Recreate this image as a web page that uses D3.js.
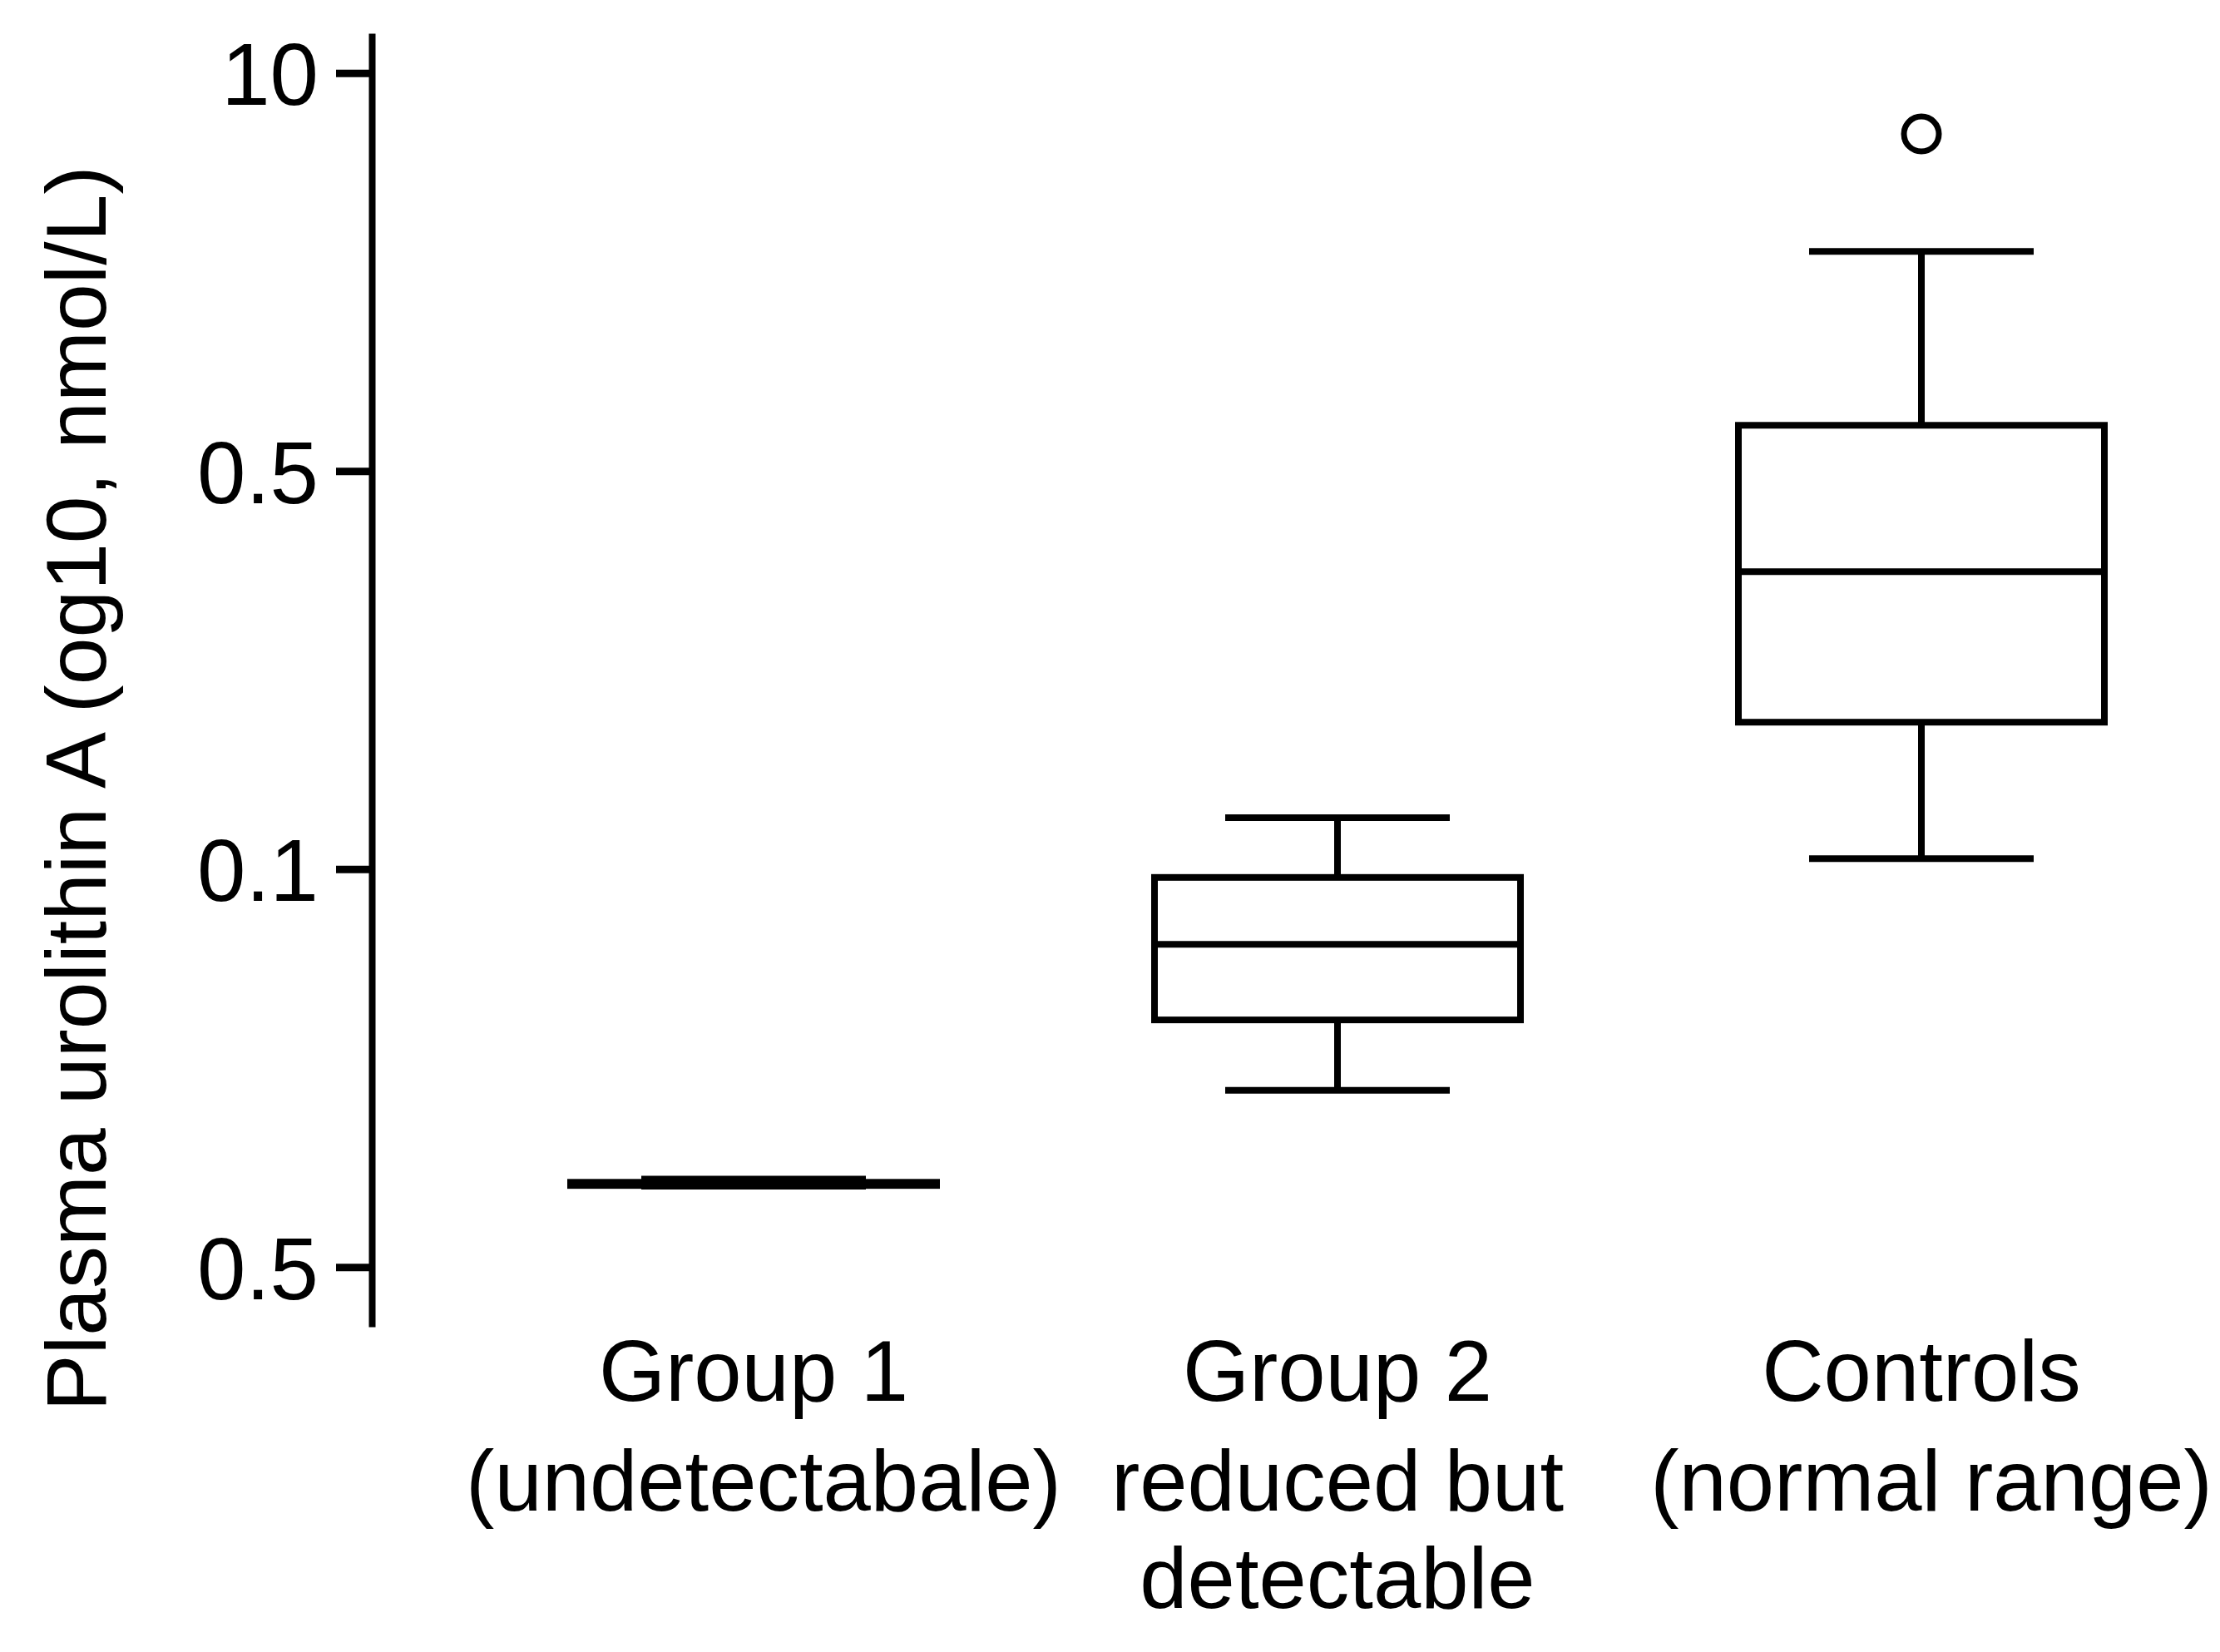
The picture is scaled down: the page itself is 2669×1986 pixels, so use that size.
<!DOCTYPE html>
<html>
<head>
<meta charset="utf-8">
<script src="https://cdn.jsdelivr.net/npm/d3@7/dist/d3.min.js"></script>
<style>
  html, body { margin: 0; padding: 0; background: #fff; }
  svg { display: block; }
  text { font-family: "Liberation Sans", Arial, Helvetica, sans-serif; fill: #000; }
</style>
</head>
<body>
<svg id="chart" width="2669" height="1986"></svg>
<script>
// ---- data (values in axis-tick units) ----
const groups = ["Group 1", "Group 2", "Controls"];
const groupLabels = [
  ["Group 1", "(undetectabale)"],
  ["Group 2", "reduced but", "detectable"],
  ["Controls", "(normal range)"]
];
const whiskerLow  = [0.203, 0.444, 1.026];
const q1          = [0.205, 0.621, 1.369];
const median      = [0.209, 0.811, 1.747];
const q3          = [0.213, 0.979, 2.115];
const whiskerHigh = [0.221, 1.129, 2.552];
const outliers    = [[], [], [2.847]];
const tickValues  = [0, 1, 2, 3];
const tickLabels  = ["0.5", "0.1", "0.5", "10"];
const yTitle = "Plasma urolithin A (og10, nmol/L)";

// ---- layout ----
const W = 2669, H = 1986;
const axisX = 447;
const boxW = 440, capW = 270;
const lw = 8;

const svg = d3.select("#chart");
svg.append("rect").attr("width", W).attr("height", H).attr("fill", "#fff");

const y = d3.scaleLinear().domain([-0.15, 3.1]).range([1595, 40]);
const x = d3.scalePoint().domain(groups).range([906, 2310]);

// y axis
const yAxis = d3.axisLeft(y)
  .tickValues(tickValues)
  .tickFormat((d, i) => tickLabels[i])
  .tickSize(43)
  .tickSizeOuter(0)
  .tickPadding(21);

const gy = svg.append("g").attr("transform", `translate(${axisX},0)`).call(yAxis);
gy.select(".domain").attr("stroke", "#000").attr("stroke-width", lw);
gy.selectAll(".tick line").attr("stroke", "#000").attr("stroke-width", 9);
gy.selectAll(".tick text")
  .attr("fill", "#000")
  .style("font-size", "105px")
  .attr("dy", "0.36em");
gy.attr("font-family", null).attr("font-size", null);

// y title
svg.append("text")
  .attr("transform", `translate(127,948) rotate(-90)`)
  .attr("text-anchor", "middle")
  .style("font-size", "102px")
  .text(yTitle);

// boxes
const data = groups.map((g, i) => ({
  g, lo: whiskerLow[i], q1: q1[i], med: median[i], q3: q3[i], hi: whiskerHigh[i], out: outliers[i]
}));

const gb = svg.append("g").attr("stroke", "#000").attr("stroke-width", lw).attr("fill", "none");

data.forEach(d => {
  const cx = x(d.g);
  const g = gb.append("g");
  // whiskers
  g.append("line").attr("x1", cx).attr("x2", cx).attr("y1", y(d.hi)).attr("y2", y(d.q3));
  g.append("line").attr("x1", cx).attr("x2", cx).attr("y1", y(d.q1)).attr("y2", y(d.lo));
  g.append("line").attr("x1", cx - capW / 2).attr("x2", cx + capW / 2).attr("y1", y(d.hi)).attr("y2", y(d.hi));
  g.append("line").attr("x1", cx - capW / 2).attr("x2", cx + capW / 2).attr("y1", y(d.lo)).attr("y2", y(d.lo));
  // box
  g.append("rect")
    .attr("x", cx - boxW / 2).attr("width", boxW)
    .attr("y", y(d.q3)).attr("height", y(d.q1) - y(d.q3))
    .attr("fill", "#fff");
  // median
  g.append("line").attr("x1", cx - boxW / 2).attr("x2", cx + boxW / 2).attr("y1", y(d.med)).attr("y2", y(d.med));
  // outliers
  d.out.forEach(v => {
    g.append("circle").attr("cx", cx).attr("cy", y(v)).attr("r", 21).attr("stroke-width", 7).attr("fill", "#fff");
  });
});

// x category labels
const lineBaselines = [1684, 1816, 1933];
groupLabels.forEach((lines, i) => {
  const t = svg.append("text")
    .attr("text-anchor", "middle")
    .style("font-size", "103px");
  lines.forEach((ln, j) => {
    t.append("tspan").attr("x", x(groups[i]) + (j > 0 && lines.length === 2 ? 12 : 0)).attr("y", lineBaselines[j]).text(ln);
  });
});
</script>
</body>
</html>
